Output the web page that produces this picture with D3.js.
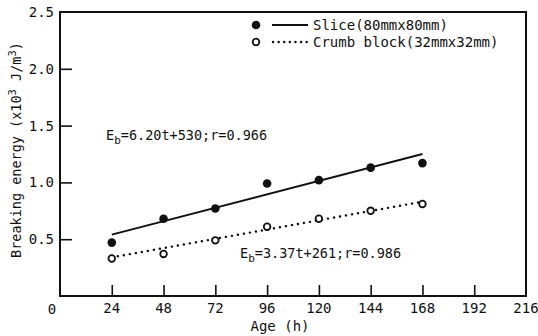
<!DOCTYPE html>
<head>
  <meta charset="utf-8">
  <script src="https://d3js.org/d3.v7.min.js"></script>
  <style>
    body { margin: 0; background: #fff; }
    text { font-family: "DejaVu Sans Mono", monospace; fill: #111; }
    .frame { fill: none; stroke: #111; stroke-width: 2; }
    .tick line { stroke: #111; stroke-width: 1.6; }
    .fit { fill: none; stroke: #111; }
  </style>
</head>
<body>
<div id="chart"></div>
<script>
// data
var ages = [24, 48, 72, 96, 120, 144, 168];
var slice = [0.47, 0.68, 0.77, 0.99, 1.02, 1.13, 1.17];
var crumb = [0.33, 0.37, 0.49, 0.61, 0.68, 0.75, 0.81];
// fitted lines as drawn (start, end)
var sliceFit = [[24, 0.54], [168, 1.25]];
var crumbFit = [[24, 0.34], [168, 0.83]];
var xTicks = [24, 48, 72, 96, 120, 144, 168, 192, 216];
var yTicks = [0.5, 1.0, 1.5, 2.0, 2.5];

var width = 538, height = 336;
var margin = {top: 12, right: 12, bottom: 40, left: 60};

var svg = d3.select("#chart").append("svg")
    .attr("width", width)
    .attr("height", height);

var x = d3.scaleLinear().domain([0, 216]).range([margin.left, 526]);
var y = d3.scaleLinear().domain([0, 2.5]).range([296, margin.top]);

// frame
svg.append("rect")
    .attr("class", "frame")
    .attr("x", x(0)).attr("y", y(2.5))
    .attr("width", x(216) - x(0))
    .attr("height", y(0) - y(2.5));

// inward ticks
var xAxis = svg.append("g")
    .attr("transform", "translate(0," + y(0) + ")")
    .call(d3.axisTop(x).tickValues(xTicks.slice(0, -1)).tickSize(11).tickFormat(""));
xAxis.select(".domain").remove();

var yAxis = svg.append("g")
    .attr("transform", "translate(" + x(0) + ",0)")
    .call(d3.axisRight(y).tickValues(yTicks.slice(0, -1)).tickSize(12).tickFormat(""));
yAxis.select(".domain").remove();

// tick labels
svg.selectAll(".xlab")
    .data(xTicks)
  .enter().append("text")
    .attr("x", function(d) { return x(d); })
    .attr("y", 313)
    .attr("text-anchor", "middle")
    .style("font-size", "14px")
    .text(function(d) { return d; });

svg.selectAll(".ylab")
    .data(yTicks)
  .enter().append("text")
    .attr("x", 54)
    .attr("y", function(d) { return y(d) + 5; })
    .attr("text-anchor", "end")
    .style("font-size", "14px")
    .text(function(d) { return d.toFixed(1); });

svg.append("text")
    .attr("x", 52).attr("y", 314)
    .attr("text-anchor", "middle")
    .style("font-size", "14px")
    .text("0");

// axis titles
svg.append("text")
    .attr("x", 280).attr("y", 331)
    .attr("text-anchor", "middle")
    .style("font-size", "14px")
    .text("Age (h)");

var yt = svg.append("text")
    .attr("transform", "translate(21,150) rotate(-90)")
    .attr("text-anchor", "middle")
    .style("font-size", "13.5px");
yt.append("tspan").text("Breaking energy (x10");
yt.append("tspan").attr("dy", -5).style("font-size", "10.5px").text("3");
yt.append("tspan").attr("dy", 5).text(" J/m");
yt.append("tspan").attr("dy", -5).style("font-size", "10.5px").text("3");
yt.append("tspan").attr("dy", 5).text(")");

// fit lines
var line = d3.line()
    .x(function(d) { return x(d[0]); })
    .y(function(d) { return y(d[1]); });

svg.append("path")
    .datum(sliceFit)
    .attr("class", "fit")
    .attr("stroke-width", 1.9)
    .attr("d", line);

svg.append("path")
    .datum(crumbFit)
    .attr("class", "fit")
    .attr("stroke-width", 2.4)
    .attr("stroke-linecap", "round")
    .attr("stroke-dasharray", "0.1,6")
    .attr("d", line);

// points
svg.selectAll(".slice")
    .data(ages)
  .enter().append("circle")
    .attr("cx", function(d) { return x(d); })
    .attr("cy", function(d, i) { return y(slice[i]); })
    .attr("r", 4.3)
    .attr("fill", "#111");

svg.selectAll(".crumb")
    .data(ages)
  .enter().append("circle")
    .attr("cx", function(d) { return x(d); })
    .attr("cy", function(d, i) { return y(crumb[i]); })
    .attr("r", 3.3)
    .attr("fill", "#fff")
    .attr("stroke", "#111")
    .attr("stroke-width", 1.8);

// equations
function equation(xp, yp, rest) {
  var t = svg.append("text")
      .attr("x", xp).attr("y", yp)
      .style("font-size", "13.5px");
  t.append("tspan").text("E");
  t.append("tspan").attr("dy", 4).style("font-size", "11px").text("b");
  t.append("tspan").attr("dy", -4).text(rest);
}
equation(106, 140, "=6.20t+530;r=0.966");
equation(240, 258, "=3.37t+261;r=0.986");

// legend
var legend = svg.append("g").attr("class", "legend");
legend.append("circle").attr("cx", 256).attr("cy", 25).attr("r", 4.3).attr("fill", "#111");
legend.append("line").attr("x1", 272).attr("x2", 308).attr("y1", 25).attr("y2", 25)
    .attr("stroke", "#111").attr("stroke-width", 1.9);
legend.append("text").attr("x", 313).attr("y", 30).style("font-size", "14px")
    .text("Slice(80mmx80mm)");

legend.append("circle").attr("cx", 256).attr("cy", 42).attr("r", 3.3)
    .attr("fill", "#fff").attr("stroke", "#111").attr("stroke-width", 1.8);
legend.append("line").attr("x1", 273).attr("x2", 308).attr("y1", 42).attr("y2", 42)
    .attr("stroke", "#111").attr("stroke-width", 2.4)
    .attr("stroke-linecap", "round").attr("stroke-dasharray", "0.1,5.5");
legend.append("text").attr("x", 313).attr("y", 47).style("font-size", "14px")
    .text("Crumb block(32mmx32mm)");
</script>
</body>
